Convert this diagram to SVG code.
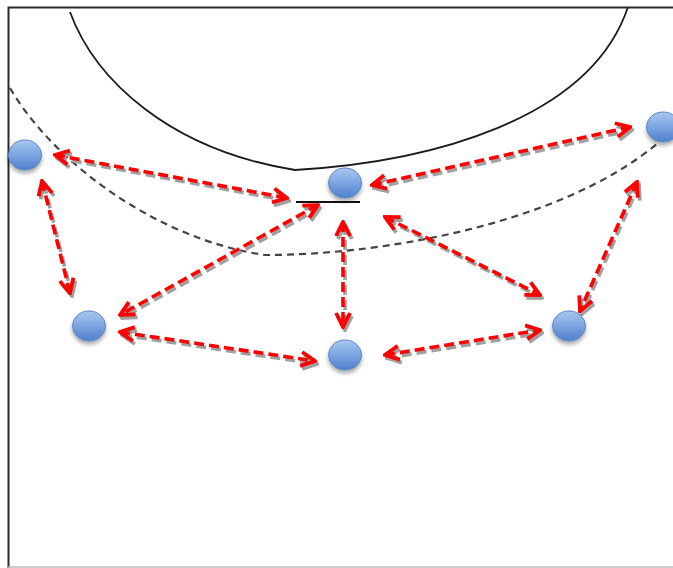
<svg xmlns="http://www.w3.org/2000/svg" width="673" height="568" viewBox="0 0 673 568">
<style>
.frame{stroke:#2a2a2a;stroke-width:2;fill:none}
.curve{stroke:#1a1a1a;stroke-width:1.8;fill:none}
.dcurve{stroke:#444;stroke-width:2.2;fill:none;stroke-dasharray:7 5}
.node{fill:url(#ng);stroke:#5a86c6;stroke-width:1;filter:url(#sh)}
.arr{stroke:#ff0000;stroke-width:3.6;fill:none;stroke-dasharray:10 5;marker-start:url(#hr);marker-end:url(#hr)}
.arrs{stroke:#a0a0a0;stroke-width:3.6;fill:none;stroke-dasharray:10 5;marker-start:url(#hg);marker-end:url(#hg)}
</style>
<defs>
<linearGradient id="ng" x1="0" y1="0" x2="0" y2="1">
<stop offset="0" stop-color="#a9c8f2"/>
<stop offset="1" stop-color="#4f80cc"/>
</linearGradient>
<filter id="sh" x="-50%" y="-50%" width="200%" height="200%">
<feDropShadow dx="0" dy="3" stdDeviation="2" flood-color="#000" flood-opacity="0.35"/>
</filter>
<marker id="hr" viewBox="0 0 18 18" markerWidth="18" markerHeight="18" refX="16" refY="9" orient="auto-start-reverse" markerUnits="userSpaceOnUse">
<path d="M2,2 L16,9 L2,16" stroke="#ff0000" stroke-width="3.8" fill="none"/>
</marker>
<marker id="hg" viewBox="0 0 18 18" markerWidth="18" markerHeight="18" refX="16" refY="9" orient="auto-start-reverse" markerUnits="userSpaceOnUse">
<path d="M2,2 L16,9 L2,16" stroke="#a0a0a0" stroke-width="3.8" fill="none"/>
</marker>
</defs>
<rect width="673" height="568" fill="#fff"/>
<g id="frame">
<path class="frame" d="M8.5,568 L8.5,7.5 L673,7.5"/>
<line x1="8" y1="567" x2="673" y2="567" stroke="#bbb" stroke-width="1.5"/>
</g>
<g id="court">
<path class="curve" d="M70,12 C95,80 170,150 295,170 C430,162 590,120 628,7"/>
<path class="dcurve" d="M10,88 C55,165 160,240 265,255 C380,255 560,225 658,143"/>
<line x1="296" y1="202" x2="360" y2="202" stroke="#111" stroke-width="1.8"/>
</g>
<g id="connectors">
<g transform="translate(2,3)">
<line class="arrs" x1="55" y1="155" x2="287" y2="198"/>
<line class="arrs" x1="372" y1="185" x2="630" y2="127"/>
<line class="arrs" x1="42" y1="181" x2="70" y2="293"/>
<line class="arrs" x1="318" y1="205" x2="120" y2="315"/>
<line class="arrs" x1="343" y1="222" x2="343" y2="327"/>
<line class="arrs" x1="385" y1="217" x2="540" y2="295"/>
<line class="arrs" x1="637" y1="182" x2="580" y2="311"/>
<line class="arrs" x1="120" y1="332" x2="315" y2="361"/>
<line class="arrs" x1="385" y1="355" x2="540" y2="330"/>
</g>
<line class="arr" x1="55" y1="155" x2="287" y2="198"/>
<line class="arr" x1="372" y1="185" x2="630" y2="127"/>
<line class="arr" x1="42" y1="181" x2="70" y2="293"/>
<line class="arr" x1="318" y1="205" x2="120" y2="315"/>
<line class="arr" x1="343" y1="222" x2="343" y2="327"/>
<line class="arr" x1="385" y1="217" x2="540" y2="295"/>
<line class="arr" x1="637" y1="182" x2="580" y2="311"/>
<line class="arr" x1="120" y1="332" x2="315" y2="361"/>
<line class="arr" x1="385" y1="355" x2="540" y2="330"/>
</g>
<g id="n1"><ellipse class="node" cx="25" cy="155" rx="16.5" ry="15"/></g>
<g id="n2"><ellipse class="node" cx="345" cy="183" rx="16.5" ry="15"/></g>
<g id="n3"><ellipse class="node" cx="663" cy="127" rx="16.5" ry="15"/></g>
<g id="n4"><ellipse class="node" cx="89" cy="326" rx="16.5" ry="15"/></g>
<g id="n5"><ellipse class="node" cx="345" cy="355" rx="16.5" ry="15"/></g>
<g id="n6"><ellipse class="node" cx="569" cy="326" rx="16.5" ry="15"/></g>
</svg>
